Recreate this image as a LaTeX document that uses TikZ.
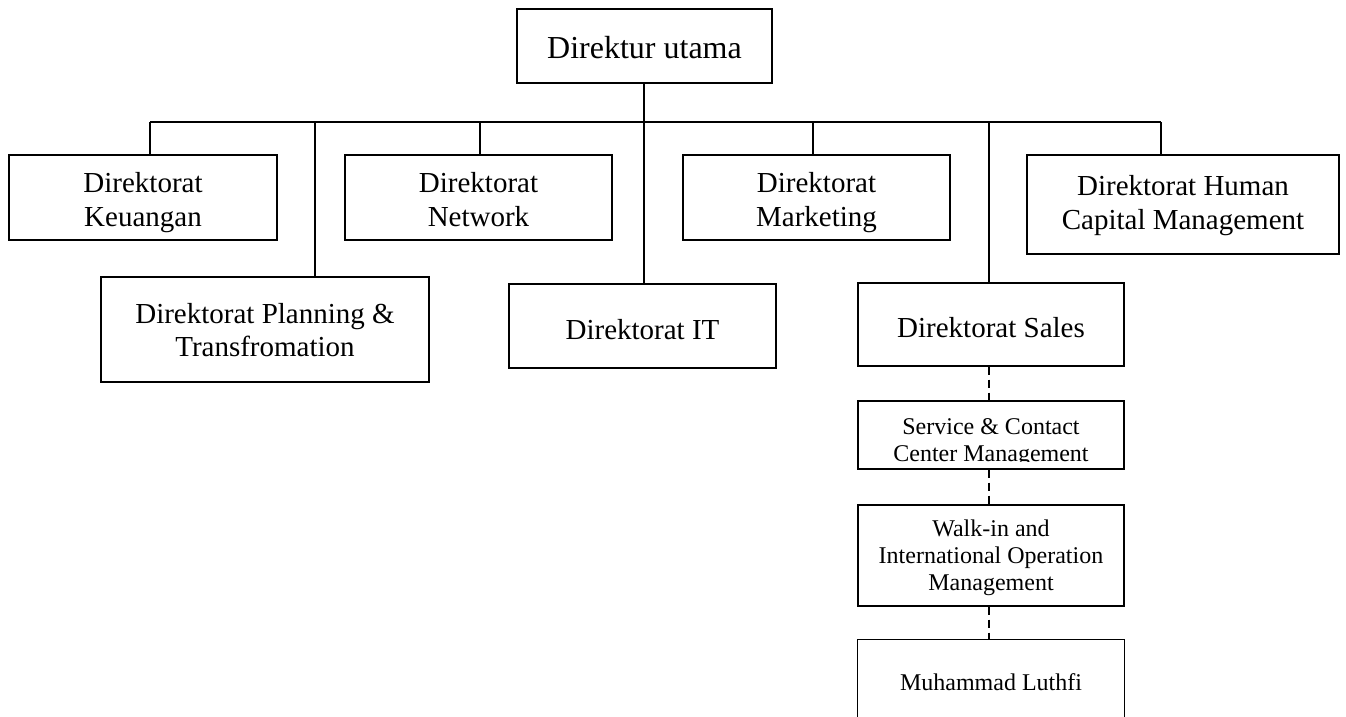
\documentclass[tikz,border=0pt]{standalone}
\usepackage{fontspec}
\setmainfont{Liberation Serif}
\begin{document}
\begin{tikzpicture}[x=1pt,y=-1pt]
\tikzset{
  box/.style={draw, line width=1.1pt, inner sep=0pt},
  txt/.style={align=center, inner sep=0pt, font=\fontsize{29}{33.5}\selectfont},
  bigtxt/.style={align=center, inner sep=0pt, font=\fontsize{32}{37}\selectfont},
  smalltxt/.style={align=center, inner sep=0pt, font=\fontsize{24}{27}\selectfont},
  boxline/.style={line width=1.1pt},
  link/.style={line width=1.6pt},
  dlink/.style={line width=1.3pt, dash pattern=on 8pt off 5pt}
}
\useasboundingbox (0,0) rectangle (1346,716);
% boxes
\node[box, minimum width=255pt, minimum height=74pt] (top) at (644.5,46) {};
\node[bigtxt] (topt) at (644.5,50.9) {\strut Direktur utama};
\node[box, minimum width=268pt, minimum height=85pt] (keu) at (143,197.5) {};
\node[txt] (keut) at (143,203) {\strut Direktorat\\\strut Keuangan};
\node[box, minimum width=267pt, minimum height=85pt] (net) at (478.5,197.5) {};
\node[txt] (nett) at (478.5,202.7) {\strut Direktorat\\\strut Network};
\node[box, minimum width=267pt, minimum height=85pt] (mkt) at (816.5,197.5) {};
\node[txt] (mktt) at (816.5,202.7) {\strut Direktorat\\\strut Marketing};
\node[box, minimum width=312pt, minimum height=99pt] (hcm) at (1183,204.5) {};
\node[txt] (hcmt) at (1183,206) {\strut Direktorat Human\\\strut Capital Management};
\node[box, minimum width=328pt, minimum height=105pt] (plan) at (265,329.5) {};
\node[txt] (plant) at (265,333.3) {\strut Direktorat Planning \&\\\strut Transfromation};
\node[box, minimum width=267pt, minimum height=84pt] (it) at (642.5,326) {};
\node[txt] (itt) at (642.5,332.6) {\strut Direktorat IT};
\node[box, minimum width=266pt, minimum height=83pt] (sales) at (991,324.5) {};
\node[txt] (salest) at (991,330.6) {\strut Direktorat Sales};
\node[box, minimum width=266pt, minimum height=68pt] (svc) at (991,435) {};
\coordinate (svcclip) at (1124,461);
\begin{scope}
  \clip (svc.north west) rectangle (svcclip);
  \node[smalltxt] (svct) at (991,442.1) {\strut Service \& Contact\\\strut Center Management};
\end{scope}
\node[box, minimum width=266pt, minimum height=101pt] (walk) at (991,555.5) {};
\node[smalltxt] (walkt) at (991,558.3) {\strut Walk-in and\\\strut International Operation\\\strut Management};
\node[inner sep=0pt, minimum width=266pt, minimum height=90pt] (lut) at (991,685) {};
\node[smalltxt] (lutt) at (991,684.6) {\strut Muhammad Luthfi};
\draw[boxline] (lut.south west) -- (lut.north west) -- (lut.north east) -- (lut.south east);
% bus
\coordinate (b1) at (150,122);
\coordinate (b2) at (315,122);
\coordinate (b3) at (480,122);
\coordinate (b4) at (644,122);
\coordinate (b5) at (813,122);
\coordinate (b6) at (989,122);
\coordinate (b7) at (1161,122);
\draw[link] (b1) -- (b7);
\draw[link] (b4 |- top.south) -- (b4 |- it.north);
\draw[link] (b1) -- (b1 |- keu.north);
\draw[link] (b2) -- (b2 |- plan.north);
\draw[link] (b3) -- (b3 |- net.north);
\draw[link] (b5) -- (b5 |- mkt.north);
\draw[link] (b6) -- (b6 |- sales.north);
\draw[link] (b7) -- (b7 |- hcm.north);
% dashed chain
\draw[dlink] (b6 |- sales.south) -- (b6 |- svc.north);
\draw[dlink] (b6 |- svc.south) -- (b6 |- walk.north);
\draw[dlink] (b6 |- walk.south) -- (b6 |- lut.north);
\end{tikzpicture}
\end{document}
